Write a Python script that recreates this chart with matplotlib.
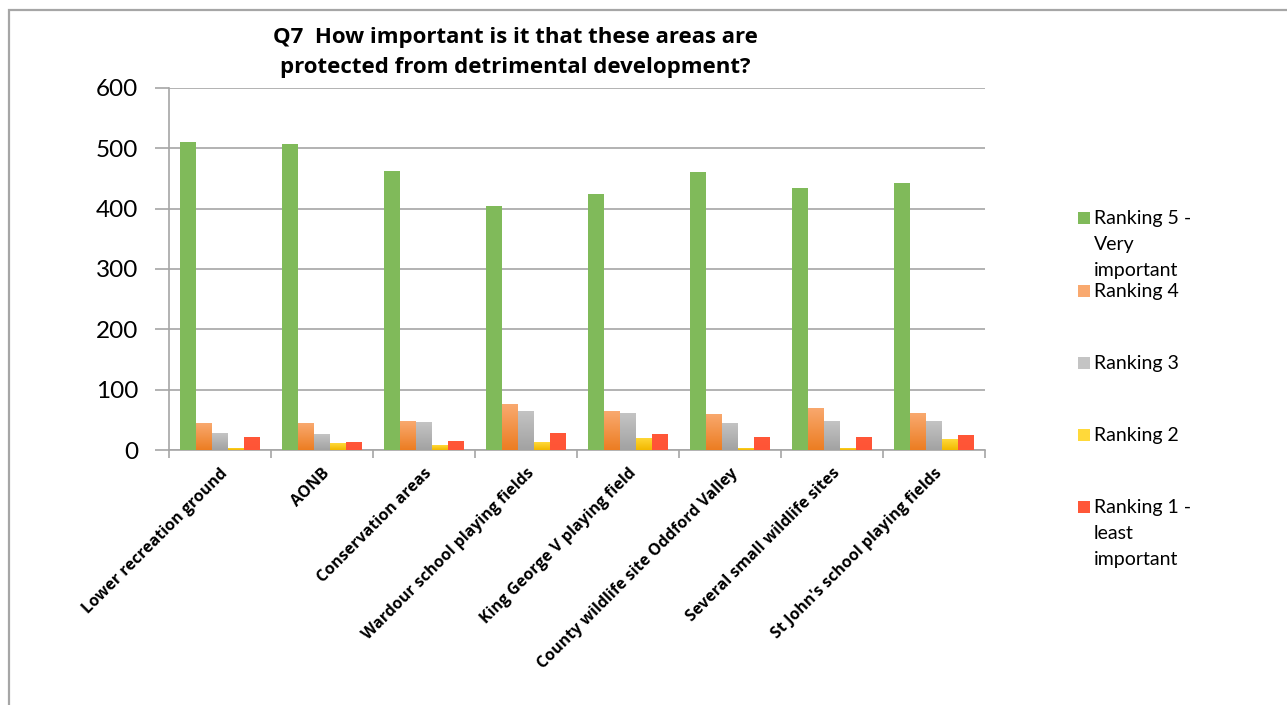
import matplotlib.pyplot as plt
import matplotlib.colors as mcolors
import numpy as np
from matplotlib.patches import Rectangle

plt.rcParams['font.family'] = ['Lato', 'DejaVu Sans']
BOLD_FONT = ['Open Sans', 'DejaVu Sans']

# Responses per area, one list per ranking
areas = ['Lower recreation ground', 'AONB', 'Conservation areas',
         'Wardour school playing fields', 'King George V playing field',
         'County wildlife site Oddford Valley', 'Several small wildlife sites',
         "St John's school playing fields"]
rank5 = [511, 507, 462, 405, 425, 461, 434, 443]
rank4 = [44, 44, 48, 76, 64, 60, 70, 61]
rank3 = [28, 26, 46, 65, 61, 45, 48, 48]
rank2 = [4, 11, 8, 13, 20, 4, 4, 18]
rank1 = [21, 14, 15, 28, 27, 22, 22, 25]
series_names = ['Ranking 5 -\nVery\nimportant', 'Ranking 4', 'Ranking 3',
                'Ranking 2', 'Ranking 1 -\nleast\nimportant']
yticks = [0, 100, 200, 300, 400, 500, 600]

# (top colour, bottom colour); equal pairs mean a flat fill
fills = [('#80ba5a', '#80ba5a'),
         ('#f9a96f', '#ec7d22'),
         ('#c4c4c4', '#a2a2a2'),
         ('#ffd93a', '#f2b800'),
         ('#ff5738', '#ff5436')]

fig = plt.figure(figsize=(12.87, 7.05), dpi=100)
ax = fig.add_axes([0.1313, 0.3617, 0.634, 0.5136])

# outer chart frame
fig.patches.append(Rectangle((9 / 1287, -0.02), 1.05, 1 - 10 / 705 + 0.02,
                             transform=fig.transFigure, fill=False,
                             edgecolor='#a6a6a6', linewidth=1.6))

x = np.arange(len(areas))
w = 0.156
data = [rank5, rank4, rank3, rank2, rank1]


def gradient_bars(bars, top, bottom):
    cmap = mcolors.LinearSegmentedColormap.from_list('g', [bottom, top])
    for b in bars:
        x0, y0 = b.get_x(), b.get_y()
        bw, bh = b.get_width(), b.get_height()
        if bh <= 0:
            continue
        img = np.linspace(0, 1, 64).reshape(-1, 1)
        im = ax.imshow(img, cmap=cmap, origin='lower', aspect='auto',
                       extent=[x0, x0 + bw, y0, y0 + bh], zorder=3)
        im.set_clip_path(b)


for k, vals in enumerate(data):
    top, bottom = fills[k]
    bars = ax.bar(x + (k - 2) * w, vals, w, color=top, zorder=3,
                  linewidth=0)
    if top != bottom:
        gradient_bars(bars, top, bottom)

ax.set_xlim(-0.5, len(areas) - 0.5)
ax.set_ylim(0, 600)
ax.set_yticks(yticks)
ax.grid(axis='y', color='#a6a6a6', linewidth=1.2, zorder=0)

for s in ['top', 'right']:
    ax.spines[s].set_visible(False)
ax.spines['left'].set_color('#a6a6a6')
ax.spines['bottom'].set_color('#a6a6a6')
ax.spines['left'].set_linewidth(1.2)
ax.spines['bottom'].set_linewidth(1.2)

ax.tick_params(axis='y', length=10, color='#a6a6a6', labelsize=17.5,
               pad=12, width=1.2)
ax.set_xticks(x)
ax.set_xticklabels(areas, rotation=45, ha='right', va='top',
                   rotation_mode='anchor', fontsize=11.5, fontweight='bold',
                   family=BOLD_FONT)
ax.tick_params(axis='x', which='major', length=0, pad=11)
ax.set_xticks(np.arange(-0.5, len(areas)), minor=True)
ax.tick_params(axis='x', which='minor', length=6, color='#a6a6a6', width=1.2)

ax.set_title('Q7  How important is it that these areas are\n'
             'protected from detrimental development?',
             fontsize=16, fontweight='bold', family=BOLD_FONT,
             x=0.424, y=1.0, pad=11, linespacing=1.55)

# legend drawn by hand so the wrapped labels line up as in the chart
leg_y = [218, 291, 363, 435, 507]
for k, name in enumerate(series_names):
    yy = 1 - leg_y[k] / 705
    fig.patches.append(Rectangle((1078 / 1287, yy - 6 / 705), 12 / 1287,
                                 12 / 705, transform=fig.transFigure,
                                 facecolor=fills[k][0], edgecolor='none'))
    fig.text(1094 / 1287, yy + 8 / 705, name, fontsize=14, va='top',
             ha='left', linespacing=1.64)

fig.savefig('out.png', dpi=100)
